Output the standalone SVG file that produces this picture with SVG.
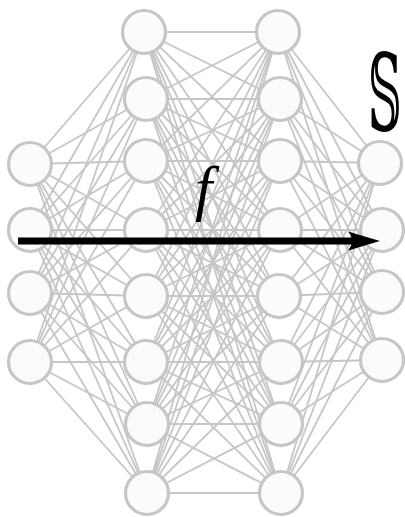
<svg xmlns="http://www.w3.org/2000/svg" width="405" height="517" viewBox="0 0 405 517">
<style>
.e{stroke:#c6c6c6;stroke-width:1.8;fill:none}
.n circle{fill:#fbfbfb;stroke:#c6c6c6;stroke-width:3.2}
.lbl{font-family:"Liberation Serif","DejaVu Serif",serif;fill:#000}
</style>
<rect width="405" height="517" fill="#ffffff"/>
<g id="connectors" class="e">
<line x1="30" y1="164" x2="144" y2="32"/><line x1="30" y1="164" x2="146" y2="99"/><line x1="30" y1="164" x2="146" y2="161"/><line x1="30" y1="164" x2="146" y2="230"/><line x1="30" y1="164" x2="146" y2="296"/><line x1="30" y1="164" x2="146" y2="362"/><line x1="30" y1="164" x2="147" y2="424"/><line x1="30" y1="164" x2="147" y2="493"/>
<line x1="30" y1="230" x2="144" y2="32"/><line x1="30" y1="230" x2="146" y2="99"/><line x1="30" y1="230" x2="146" y2="161"/><line x1="30" y1="230" x2="146" y2="230"/><line x1="30" y1="230" x2="146" y2="296"/><line x1="30" y1="230" x2="146" y2="362"/><line x1="30" y1="230" x2="147" y2="424"/><line x1="30" y1="230" x2="147" y2="493"/>
<line x1="30" y1="293" x2="144" y2="32"/><line x1="30" y1="293" x2="146" y2="99"/><line x1="30" y1="293" x2="146" y2="161"/><line x1="30" y1="293" x2="146" y2="230"/><line x1="30" y1="293" x2="146" y2="296"/><line x1="30" y1="293" x2="146" y2="362"/><line x1="30" y1="293" x2="147" y2="424"/><line x1="30" y1="293" x2="147" y2="493"/>
<line x1="30" y1="362" x2="144" y2="32"/><line x1="30" y1="362" x2="146" y2="99"/><line x1="30" y1="362" x2="146" y2="161"/><line x1="30" y1="362" x2="146" y2="230"/><line x1="30" y1="362" x2="146" y2="296"/><line x1="30" y1="362" x2="146" y2="362"/><line x1="30" y1="362" x2="147" y2="424"/><line x1="30" y1="362" x2="147" y2="493"/>

<line x1="144" y1="32" x2="278" y2="32"/><line x1="144" y1="32" x2="280" y2="99"/><line x1="144" y1="32" x2="280" y2="161"/><line x1="144" y1="32" x2="280" y2="230"/><line x1="144" y1="32" x2="279" y2="296"/><line x1="144" y1="32" x2="281" y2="362"/><line x1="144" y1="32" x2="281" y2="424"/><line x1="144" y1="32" x2="281" y2="493"/>
<line x1="146" y1="99" x2="278" y2="32"/><line x1="146" y1="99" x2="280" y2="99"/><line x1="146" y1="99" x2="280" y2="161"/><line x1="146" y1="99" x2="280" y2="230"/><line x1="146" y1="99" x2="279" y2="296"/><line x1="146" y1="99" x2="281" y2="362"/><line x1="146" y1="99" x2="281" y2="424"/><line x1="146" y1="99" x2="281" y2="493"/>
<line x1="146" y1="161" x2="278" y2="32"/><line x1="146" y1="161" x2="280" y2="99"/><line x1="146" y1="161" x2="280" y2="161"/><line x1="146" y1="161" x2="280" y2="230"/><line x1="146" y1="161" x2="279" y2="296"/><line x1="146" y1="161" x2="281" y2="362"/><line x1="146" y1="161" x2="281" y2="424"/><line x1="146" y1="161" x2="281" y2="493"/>
<line x1="146" y1="230" x2="278" y2="32"/><line x1="146" y1="230" x2="280" y2="99"/><line x1="146" y1="230" x2="280" y2="161"/><line x1="146" y1="230" x2="280" y2="230"/><line x1="146" y1="230" x2="279" y2="296"/><line x1="146" y1="230" x2="281" y2="362"/><line x1="146" y1="230" x2="281" y2="424"/><line x1="146" y1="230" x2="281" y2="493"/>
<line x1="146" y1="296" x2="278" y2="32"/><line x1="146" y1="296" x2="280" y2="99"/><line x1="146" y1="296" x2="280" y2="161"/><line x1="146" y1="296" x2="280" y2="230"/><line x1="146" y1="296" x2="279" y2="296"/><line x1="146" y1="296" x2="281" y2="362"/><line x1="146" y1="296" x2="281" y2="424"/><line x1="146" y1="296" x2="281" y2="493"/>
<line x1="146" y1="362" x2="278" y2="32"/><line x1="146" y1="362" x2="280" y2="99"/><line x1="146" y1="362" x2="280" y2="161"/><line x1="146" y1="362" x2="280" y2="230"/><line x1="146" y1="362" x2="279" y2="296"/><line x1="146" y1="362" x2="281" y2="362"/><line x1="146" y1="362" x2="281" y2="424"/><line x1="146" y1="362" x2="281" y2="493"/>
<line x1="147" y1="424" x2="278" y2="32"/><line x1="147" y1="424" x2="280" y2="99"/><line x1="147" y1="424" x2="280" y2="161"/><line x1="147" y1="424" x2="280" y2="230"/><line x1="147" y1="424" x2="279" y2="296"/><line x1="147" y1="424" x2="281" y2="362"/><line x1="147" y1="424" x2="281" y2="424"/><line x1="147" y1="424" x2="281" y2="493"/>
<line x1="147" y1="493" x2="278" y2="32"/><line x1="147" y1="493" x2="280" y2="99"/><line x1="147" y1="493" x2="280" y2="161"/><line x1="147" y1="493" x2="280" y2="230"/><line x1="147" y1="493" x2="279" y2="296"/><line x1="147" y1="493" x2="281" y2="362"/><line x1="147" y1="493" x2="281" y2="424"/><line x1="147" y1="493" x2="281" y2="493"/>

<line x1="278" y1="32" x2="380" y2="163"/><line x1="278" y1="32" x2="382" y2="230"/><line x1="278" y1="32" x2="382" y2="292"/><line x1="278" y1="32" x2="382" y2="360"/>
<line x1="280" y1="99" x2="380" y2="163"/><line x1="280" y1="99" x2="382" y2="230"/><line x1="280" y1="99" x2="382" y2="292"/><line x1="280" y1="99" x2="382" y2="360"/>
<line x1="280" y1="161" x2="380" y2="163"/><line x1="280" y1="161" x2="382" y2="230"/><line x1="280" y1="161" x2="382" y2="292"/><line x1="280" y1="161" x2="382" y2="360"/>
<line x1="280" y1="230" x2="380" y2="163"/><line x1="280" y1="230" x2="382" y2="230"/><line x1="280" y1="230" x2="382" y2="292"/><line x1="280" y1="230" x2="382" y2="360"/>
<line x1="279" y1="296" x2="380" y2="163"/><line x1="279" y1="296" x2="382" y2="230"/><line x1="279" y1="296" x2="382" y2="292"/><line x1="279" y1="296" x2="382" y2="360"/>
<line x1="281" y1="362" x2="380" y2="163"/><line x1="281" y1="362" x2="382" y2="230"/><line x1="281" y1="362" x2="382" y2="292"/><line x1="281" y1="362" x2="382" y2="360"/>
<line x1="281" y1="424" x2="380" y2="163"/><line x1="281" y1="424" x2="382" y2="230"/><line x1="281" y1="424" x2="382" y2="292"/><line x1="281" y1="424" x2="382" y2="360"/>
<line x1="281" y1="493" x2="380" y2="163"/><line x1="281" y1="493" x2="382" y2="230"/><line x1="281" y1="493" x2="382" y2="292"/><line x1="281" y1="493" x2="382" y2="360"/>
</g>
<g id="layer1" class="n">
<g id="n1-1"><circle cx="30" cy="164" r="21.5"/></g>
<g id="n1-2"><circle cx="30" cy="230" r="21.5"/></g>
<g id="n1-3"><circle cx="30" cy="293" r="21.5"/></g>
<g id="n1-4"><circle cx="30" cy="362" r="21.5"/></g>
</g>
<g id="layer2" class="n">
<g id="n2-1"><circle cx="144" cy="32" r="21.5"/></g>
<g id="n2-2"><circle cx="146" cy="99" r="21.5"/></g>
<g id="n2-3"><circle cx="146" cy="161" r="21.5"/></g>
<g id="n2-4"><circle cx="146" cy="230" r="21.5"/></g>
<g id="n2-5"><circle cx="146" cy="296" r="21.5"/></g>
<g id="n2-6"><circle cx="146" cy="362" r="21.5"/></g>
<g id="n2-7"><circle cx="147" cy="424" r="21.5"/></g>
<g id="n2-8"><circle cx="147" cy="493" r="21.5"/></g>
</g>
<g id="layer3" class="n">
<g id="n3-1"><circle cx="278" cy="32" r="21.5"/></g>
<g id="n3-2"><circle cx="280" cy="99" r="21.5"/></g>
<g id="n3-3"><circle cx="280" cy="161" r="21.5"/></g>
<g id="n3-4"><circle cx="280" cy="230" r="21.5"/></g>
<g id="n3-5"><circle cx="279" cy="296" r="21.5"/></g>
<g id="n3-6"><circle cx="281" cy="362" r="21.5"/></g>
<g id="n3-7"><circle cx="281" cy="424" r="21.5"/></g>
<g id="n3-8"><circle cx="281" cy="493" r="21.5"/></g>
</g>
<g id="layer4" class="n">
<g id="n4-1"><circle cx="380" cy="163" r="21.5"/></g>
<g id="n4-2"><circle cx="382" cy="230" r="21.5"/></g>
<g id="n4-3"><circle cx="382" cy="292" r="21.5"/></g>
<g id="n4-4"><circle cx="382" cy="360" r="21.5"/></g>
</g>
<g id="arrow-f">
<line x1="18" y1="241" x2="356" y2="241" stroke="#000" stroke-width="7"/>
<path d="M380,241 L348,231.5 Q356,241 348,250.5 Z" fill="#000"/>
<text class="lbl" x="195" y="209" font-size="62" font-style="italic">f</text>
</g>
<g id="label-S">
<text class="lbl" transform="translate(368,130) scale(0.44,1)" font-size="106">𝕊</text>
</g>
</svg>
